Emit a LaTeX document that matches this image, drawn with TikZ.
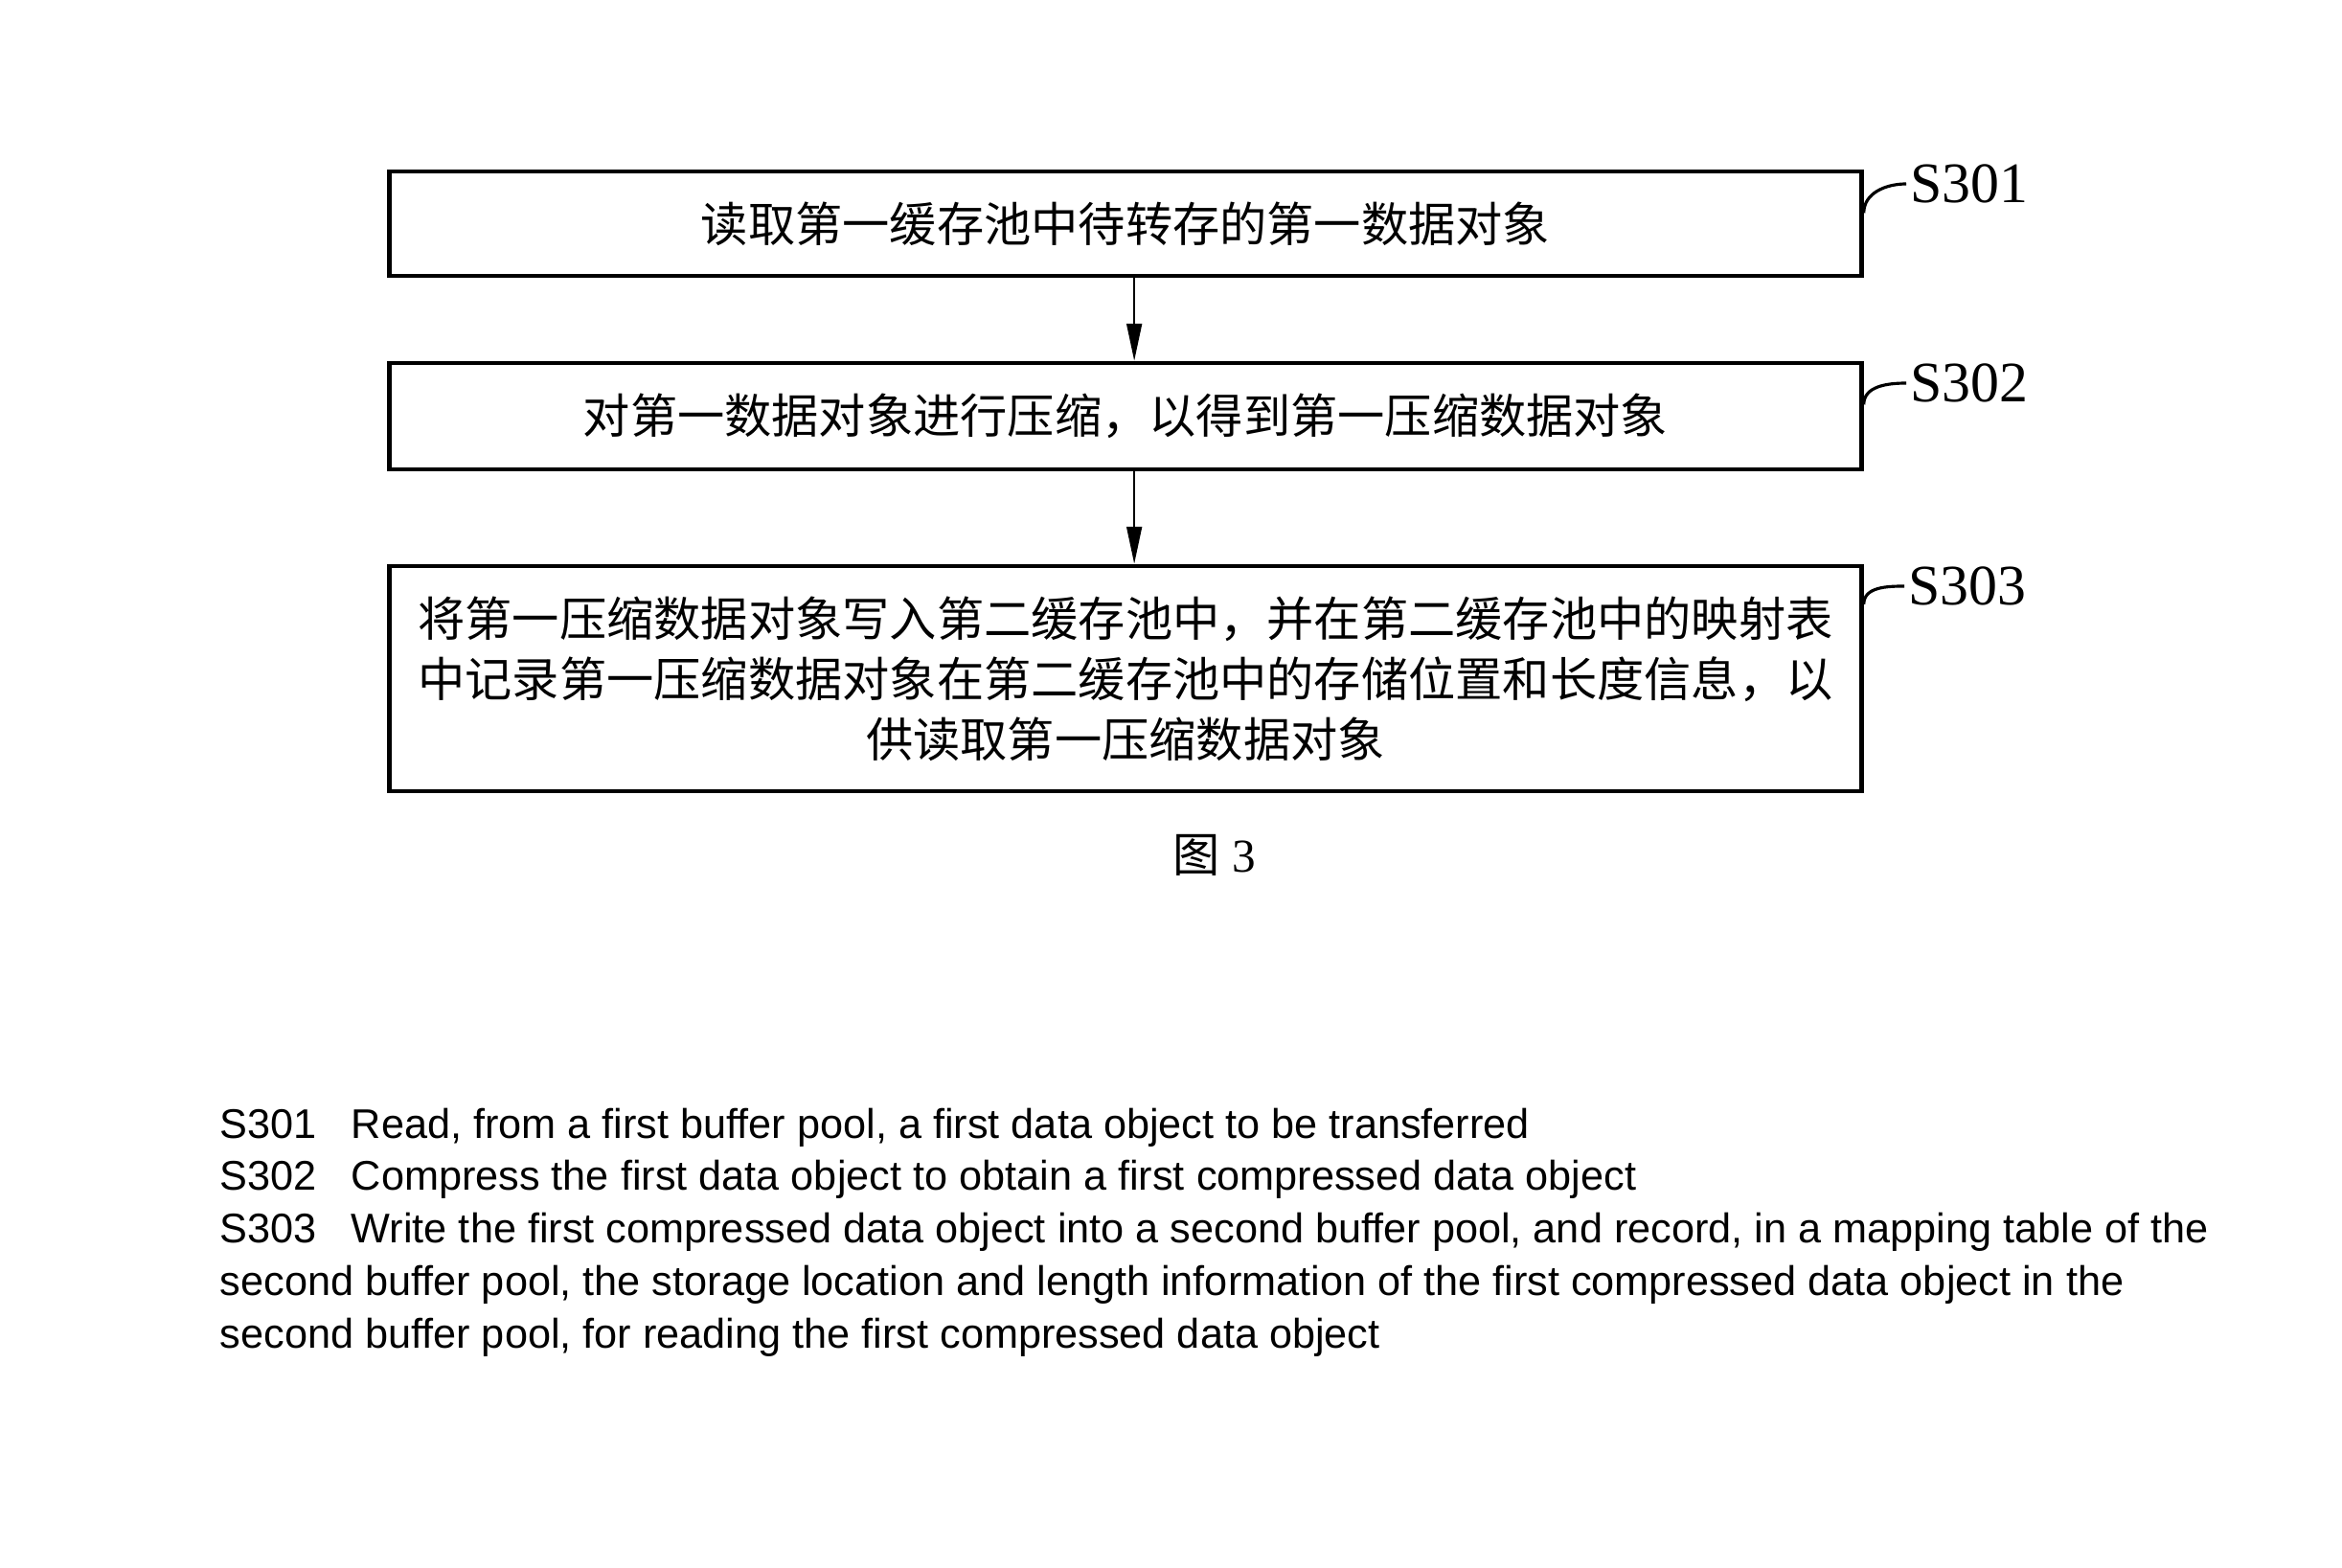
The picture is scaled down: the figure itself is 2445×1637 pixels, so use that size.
\documentclass[tikz,border=0pt]{standalone}
\usepackage{fontspec}
\setmainfont{Liberation Serif}
\newfontfamily\cjk{Noto Sans CJK SC}
\newfontfamily\arialfont{Liberation Sans}
\usetikzlibrary{arrows.meta}
\tikzset{
  stepbox/.style={draw, line width=1.3pt, minimum width=15.36cm, inner sep=0pt,
    align=center, font=\cjk\fontsize{14}{17.9}\selectfont},
  steptag/.style={anchor=west, inner sep=1pt, font=\fontsize{17}{20}\selectfont},
  leader/.style={line width=0.9pt},
  flow/.style={-{Triangle[length=11pt,width=4.5pt]}, line width=0.6pt},
}

\begin{document}
\begin{tikzpicture}[x=0.01cm, y=-0.01cm]
  \useasboundingbox (0,0) rectangle (2445,1637);
  % flow boxes
  \node[stepbox, minimum height=1.09cm] (b1) at (1175,233.5) {读取第一缓存池中待转存的第一数据对象};
  \node[stepbox, minimum height=1.11cm] (b2) at (1175,434.5) {对第一数据对象进行压缩，以得到第一压缩数据对象};
  \node[stepbox, minimum height=2.35cm] (b3) at (1175,708.5) {将第一压缩数据对象写入第二缓存池中，并在第二缓存池中的映射表\\中记录第一压缩数据对象在第二缓存池中的存储位置和长度信息，以\\供读取第一压缩数据对象};
  \draw[flow] ([xshift=2.6pt]b1.south) -- ([xshift=2.6pt]b2.north);
  \draw[flow] ([xshift=2.6pt]b2.south) -- ([xshift=2.6pt]b3.north);
  % step labels
  \node[steptag] (l1) at (1990,192) {S301};
  \node[steptag] (l2) at (1990,400) {S302};
  \node[steptag] (l3) at (1988,612) {S303};
  \draw[leader] (l1.west) to[out=180,in=90] ([yshift=-13pt]b1.north east);
  \draw[leader] (l2.west) to[out=180,in=90] ([yshift=-13pt]b2.north east);
  \draw[leader] (l3.west) to[out=180,in=90] ([yshift=-12pt]b3.north east);
  \node[font=\fontsize{14}{17}\selectfont] (cap) at (1268,893) {{\cjk 图} 3};
  % english legend
  \node[anchor=north west, inner sep=0pt, align=left, font=\arialfont\fontsize{12.3}{15.6}\selectfont] (legend) at (229,1156)
    {\makebox[39pt][l]{S301}Read, from a first buffer pool, a first data object to be transferred\\
     \makebox[39pt][l]{S302}Compress the first data object to obtain a first compressed data object\\
     \makebox[39pt][l]{S303}Write the first compressed data object into a second buffer pool, and record, in a mapping table of the\\
     second buffer pool, the storage location and length information of the first compressed data object in the\\
     second buffer pool, for reading the first compressed data object};
\end{tikzpicture}
\end{document}
